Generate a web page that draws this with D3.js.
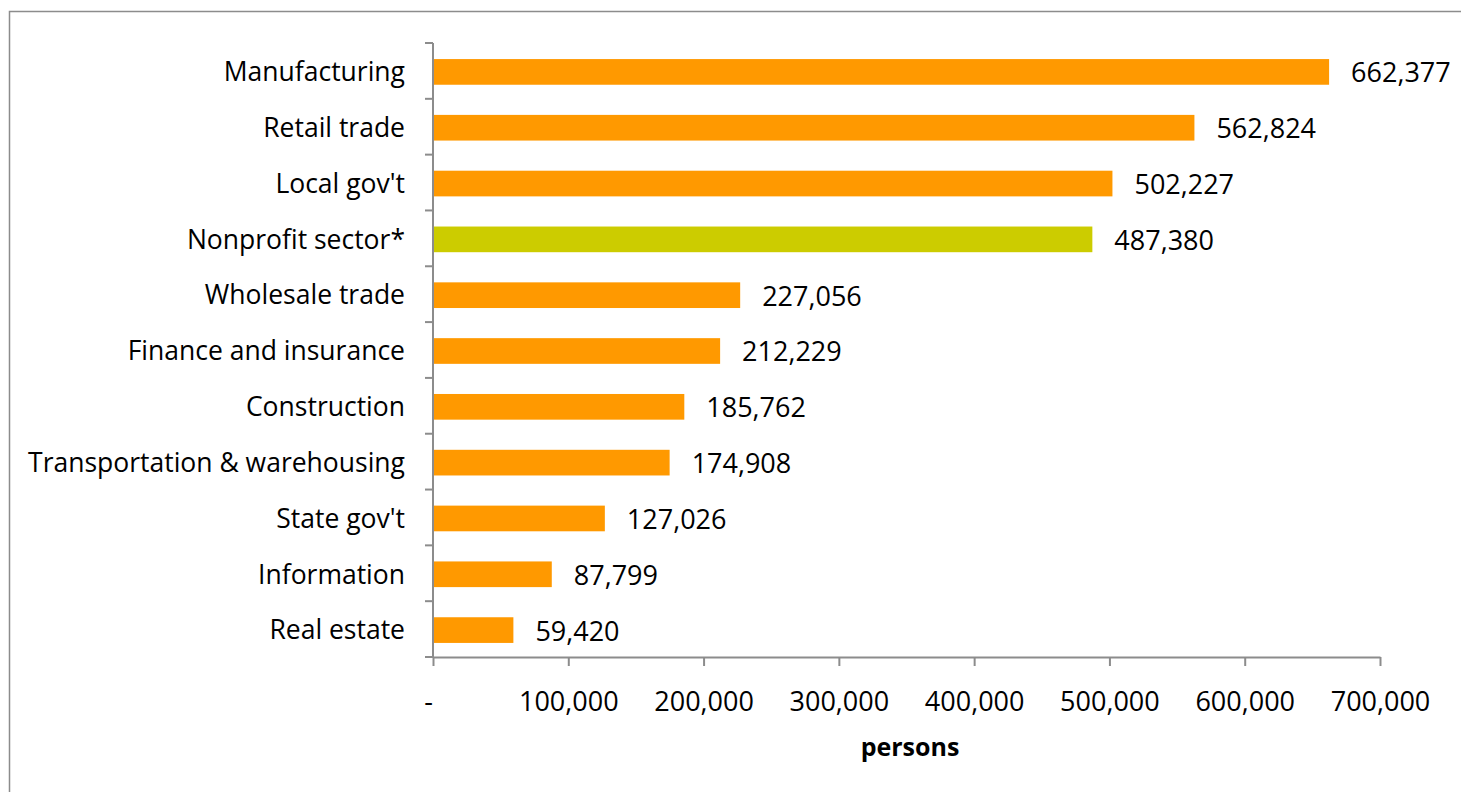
<!DOCTYPE html>
<html>
<head>
<meta charset="utf-8">
<script src="https://cdn.jsdelivr.net/npm/d3@7"></script>
<style>
  body { margin: 0; background: #fff; }
  svg text { font-family: "Open Sans", "Noto Sans", sans-serif; fill: #000; }
</style>
</head>
<body>
<svg id="chart"></svg>
<script>
// data
const categories = ['Manufacturing', 'Retail trade', "Local gov't", 'Nonprofit sector*', 'Wholesale trade',
    'Finance and insurance', 'Construction', 'Transportation & warehousing', "State gov't", 'Information', 'Real estate'];
const persons = [662377, 562824, 502227, 487380, 227056, 212229, 185762, 174908, 127026, 87799, 59420];
const highlighted = ['Nonprofit sector*'];
const xTicks = [0, 100000, 200000, 300000, 400000, 500000, 600000, 700000];
const xTitle = 'persons';

class barChart {

    constructor(_config) {
        this.config = {
            parentElement: _config.parentElement,
            containerWidth: 1461,
            containerHeight: 792,
            margin: { top: 43, left: 433, right: 81, bottom: 135 }
        };
        this.initVis();
    }

    initVis() {
        let vis = this;

        vis.width = vis.config.containerWidth - vis.config.margin.left - vis.config.margin.right;
        vis.height = vis.config.containerHeight - vis.config.margin.top - vis.config.margin.bottom;

        vis.svg = d3.select(vis.config.parentElement)
            .attr('width', vis.config.containerWidth)
            .attr('height', vis.config.containerHeight);

        // chart area border (runs off the right / bottom edge)
        vis.svg.append('rect')
            .attr('x', 9.5)
            .attr('y', 11.5)
            .attr('width', 1500)
            .attr('height', 900)
            .attr('fill', 'none')
            .attr('stroke', '#8c8c8c')
            .attr('stroke-width', 1.5);

        vis.chart = vis.svg.append('g')
            .attr('transform', `translate(${vis.config.margin.left},${vis.config.margin.top})`);

        vis.xScale = d3.scaleLinear()
            .domain([0, 700000])
            .range([0, vis.width]);

        vis.yScale = d3.scaleBand()
            .domain(categories)
            .range([0, vis.height])
            .paddingInner(0.54)
            .paddingOuter(0.27);

        vis.xAxis = d3.axisBottom(vis.xScale)
            .tickValues(xTicks)
            .tickSize(9)
            .tickSizeOuter(0)
            .tickPadding(26)
            .tickFormat(d => d === 0 ? '-' : d3.format(',')(d));

        vis.renderVis();
    }

    renderVis() {
        let vis = this;

        // bars sit ~1px lower than the band centre in the original
        vis.chart.selectAll('.bar')
            .data(categories)
            .join('rect')
            .attr('class', 'bar')
            .attr('x', 0)
            .attr('y', d => vis.yScale(d) + 1)
            .attr('width', (d, i) => vis.xScale(persons[i]))
            .attr('height', vis.yScale.bandwidth())
            .attr('fill', d => highlighted.includes(d) ? '#cccc00' : '#ff9900');

        vis.chart.selectAll('.value')
            .data(categories)
            .join('text')
            .attr('class', 'value')
            .attr('x', (d, i) => vis.xScale(persons[i]) + 22)
            .attr('y', d => vis.yScale(d) + vis.yScale.bandwidth() / 2 + 2)
            .attr('dy', '0.35em')
            .style('font-size', '27px')
            .text((d, i) => d3.format(',')(persons[i]));

        // y axis: line with ticks on the category boundaries
        const step = vis.yScale.step();
        const yAxisG = vis.chart.append('g');
        yAxisG.append('line')
            .attr('x1', 0).attr('x2', 0)
            .attr('y1', 0).attr('y2', vis.height)
            .attr('stroke', '#8c8c8c').attr('stroke-width', 2);
        yAxisG.selectAll('.ytick')
            .data(d3.range(categories.length + 1))
            .join('line')
            .attr('class', 'ytick')
            .attr('x1', -8).attr('x2', 0)
            .attr('y1', i => i * step).attr('y2', i => i * step)
            .attr('stroke', '#8c8c8c').attr('stroke-width', 2);
        yAxisG.selectAll('.ylabel')
            .data(categories)
            .join('text')
            .attr('class', 'ylabel')
            .attr('x', -28)
            .attr('y', d => vis.yScale(d) + vis.yScale.bandwidth() / 2 + 1)
            .attr('dy', '0.35em')
            .attr('text-anchor', 'end')
            .style('font-size', '26.5px')
            .text(d => d);

        // x axis
        const xAxisG = vis.chart.append('g')
            .attr('transform', `translate(0,${vis.height})`)
            .call(vis.xAxis);
        xAxisG.select('.domain').attr('stroke', '#8c8c8c').attr('stroke-width', 2);
        xAxisG.selectAll('.tick line').attr('stroke', '#8c8c8c').attr('stroke-width', 2);
        xAxisG.selectAll('.tick text')
            .style('font-size', '27px')
            .attr('fill', '#000')
            .attr('dx', d => d === 0 ? -5 : 0);

        vis.svg.append('text')
            .attr('x', 910)
            .attr('y', 747)
            .attr('dy', '0.35em')
            .attr('text-anchor', 'middle')
            .style('font-size', '25px')
            .style('font-weight', 'bold')
            .text(xTitle);
    }
}

new barChart({ parentElement: '#chart' });
</script>
</body>
</html>
